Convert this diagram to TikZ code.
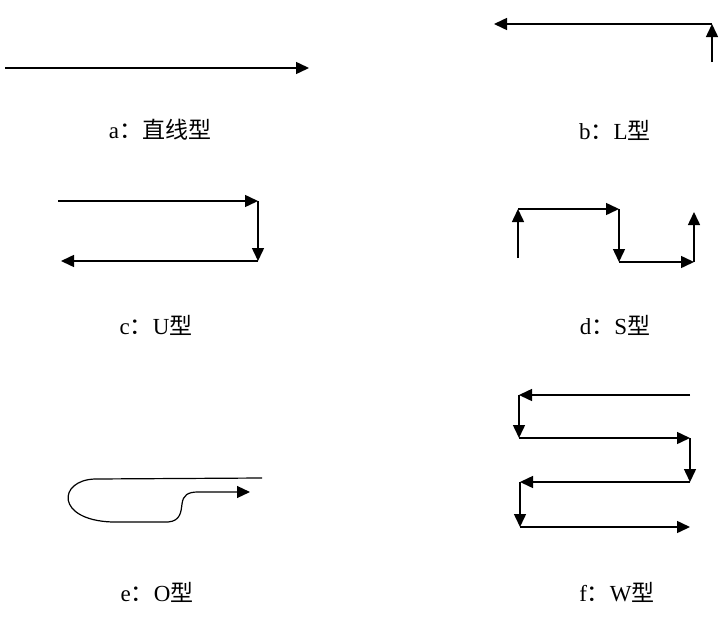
\documentclass[tikz,border=0pt]{standalone}
\usepackage{fontspec}
\setmainfont{Liberation Serif}
\newfontfamily\cjk{Noto Sans CJK SC}
\usetikzlibrary{arrows.meta}
\tikzset{
  flow/.style={line width=1.5pt, draw=black},
  arrow/.style={flow, -{Triangle[length=13pt,width=12pt]}},
  tag/.style={font=\fontsize{23}{26}\selectfont, inner sep=1pt},
}
\newcommand{\zh}[1]{{\cjk #1}}
\begin{document}
\begin{tikzpicture}[x=1pt, y=-1pt]
  \useasboundingbox[fill=white] (0,0) rectangle (720,621);
  % a: straight line
  \coordinate (a0) at (5,68);
  \coordinate (a1) at (309,68);
  \draw[arrow] (a0) -- (a1);
  \node[tag] (la) at (160,130) {a\zh{：直线型}};
  % b: L
  \coordinate (b0) at (712,62);
  \coordinate (b1) at (712,24);
  \coordinate (b2) at (494,24);
  \draw[arrow] (b0) -- (b1);
  \draw[arrow] (b1) -- (b2);
  \node[tag] (lb) at (615,130) {b\zh{：}L\zh{型}};
  % c: U
  \coordinate (c0) at (58,201);
  \coordinate (c1) at (258,201);
  \coordinate (c2) at (258,261);
  \coordinate (c3) at (61,261);
  \draw[arrow] (c0) -- (c1);
  \draw[arrow] (c1) -- (c2);
  \draw[arrow] (c2) -- (c3);
  \node[tag] (lc) at (156,325) {c\zh{：}U\zh{型}};
  % d: S
  \coordinate (d0) at (518,258);
  \coordinate (d1) at (518,209);
  \coordinate (d2) at (619,209);
  \coordinate (d3) at (619,262);
  \coordinate (d4) at (694,262);
  \coordinate (d5) at (694,212);
  \draw[arrow] (d0) -- (d1);
  \draw[arrow] (d1) -- (d2);
  \draw[arrow] (d2) -- (d3);
  \draw[arrow] (d3) -- (d4);
  \draw[arrow] (d4) -- (d5);
  \node[tag] (ld) at (615,325) {d\zh{：}S\zh{型}};
  % e: O
  \coordinate (e0) at (262,478);
  \coordinate (e1) at (250,492);
  \draw[arrow, line width=1.2pt] (e0) -- (95,479)
    .. controls (58,480) and (55,520) .. (112,522) -- (168,522)
    .. controls (181,521) and (181,511) .. (182,504)
    .. controls (183,495) and (188,492) .. (198,492) -- (e1);
  \node[tag] (le) at (157,592) {e\zh{：}O\zh{型}};
  % f: W
  \coordinate (f0) at (690,395);
  \coordinate (f1) at (519,395);
  \coordinate (f2) at (519,438);
  \coordinate (f3) at (690,438);
  \coordinate (f4) at (690,482);
  \coordinate (f5) at (520,482);
  \coordinate (f6) at (520,527);
  \coordinate (f7) at (690,527);
  \draw[arrow] (f0) -- (f1);
  \draw[arrow] (f1) -- (f2);
  \draw[arrow] (f2) -- (f3);
  \draw[arrow] (f3) -- (f4);
  \draw[arrow] (f4) -- (f5);
  \draw[arrow] (f5) -- (f6);
  \draw[arrow] (f6) -- (f7);
  \node[tag] (lf) at (617,592) {f\zh{：}W\zh{型}};
\end{tikzpicture}
\end{document}
